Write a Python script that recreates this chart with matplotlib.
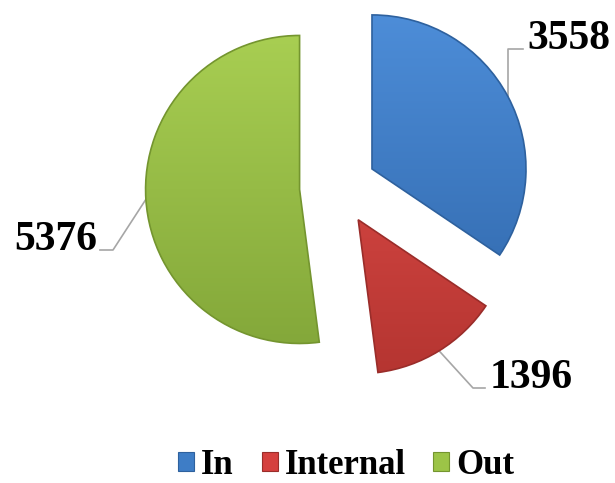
import numpy as np
import matplotlib
matplotlib.use("Agg")
import matplotlib.pyplot as plt
from matplotlib.patches import Patch, Wedge
from matplotlib.colors import LinearSegmentedColormap

categories = ["In", "Internal", "Out"]
values = [3558, 1396, 5376]
labels = ["3558", "1396", "5376"]

colors = ["#3E7DC6", "#D5403E", "#9CC447"]
tops = ["#4D8DD8", "#E24E4A", "#A8CE52"]
bottoms = ["#3169AD", "#B53531", "#84A83A"]
edges = ["#2E619E", "#9A2D2A", "#74952F"]

W, H = 615, 483
cx, cy, R = 338, 187, 154

fig = plt.figure(figsize=(W / 100, H / 100), dpi=100)
ax = fig.add_axes([0, 0, 1, 1])
ax.axis("off")

explode = [0.25, 0.25, 0.25]
wedges, _ = ax.pie(values, colors=colors, startangle=90, counterclock=False,
                   explode=explode, radius=1.0,
                   wedgeprops=dict(edgecolor="none"))

for w, t, b, e in zip(wedges, tops, bottoms, edges):
    cmap = LinearSegmentedColormap.from_list("g", [b, t])
    xc, yc = w.center
    grad = np.linspace(0, 1, 256).reshape(-1, 1)
    im = ax.imshow(grad, cmap=cmap, origin="lower", aspect="auto",
                   extent=[xc - 1, xc + 1, yc - 1, yc + 1], zorder=2,
                   interpolation="bilinear")
    im.set_clip_path(w)
    rim = Wedge(w.center, w.r, w.theta1, w.theta2, facecolor="none",
                edgecolor=e, linewidth=1.2, zorder=3)
    ax.add_patch(rim)
ax.set_xlim(-cx / R, (W - cx) / R)
ax.set_ylim(-(H - cy) / R, cy / R)

def px(x, y):
    return ((x - cx) / R, (cy - y) / R)

# leader lines: from rim midpoint -> elbow -> short horizontal, then label
elbows = {0: ((512, 49), (523, 49), (527, 49), "left"),
          1: ((473, 388), (485, 388), (490, 388), "left"),
          2: ((113, 250), (100, 250), (97, 250), "right")}
for i, w in enumerate(wedges):
    m = np.deg2rad((w.theta1 + w.theta2) / 2)
    sx = w.center[0] + w.r * np.cos(m)
    sy = w.center[1] + w.r * np.sin(m)
    e1, e2, tp, ha = elbows[i]
    p1 = px(*e1)
    p2 = px(*e2)
    if i == 0:
        p1 = (sx, p1[1])
    ax.plot([sx, p1[0], p2[0]], [sy, p1[1], p2[1]], color="#A6A6A6",
            lw=1.2, zorder=1)
    tx, ty = px(*tp)
    ax.text(tx, ty, labels[i], ha=ha, va="baseline", fontsize=30,
            fontweight="bold", family="Liberation Serif", color="black")

handles = [Patch(facecolor=c, edgecolor=e, linewidth=0.8) for c, e in zip(colors, edges)]
leg = fig.legend(handles, categories, loc="center", bbox_to_anchor=(0.563, 0.036),
                 ncol=3, frameon=False, handlelength=0.46, handleheight=0.46,
                 handletextpad=0.2, columnspacing=0.8, borderpad=0.1,
                 prop=dict(family="Liberation Serif", weight="bold", size=25))

fig.savefig("out.png", dpi=100)
